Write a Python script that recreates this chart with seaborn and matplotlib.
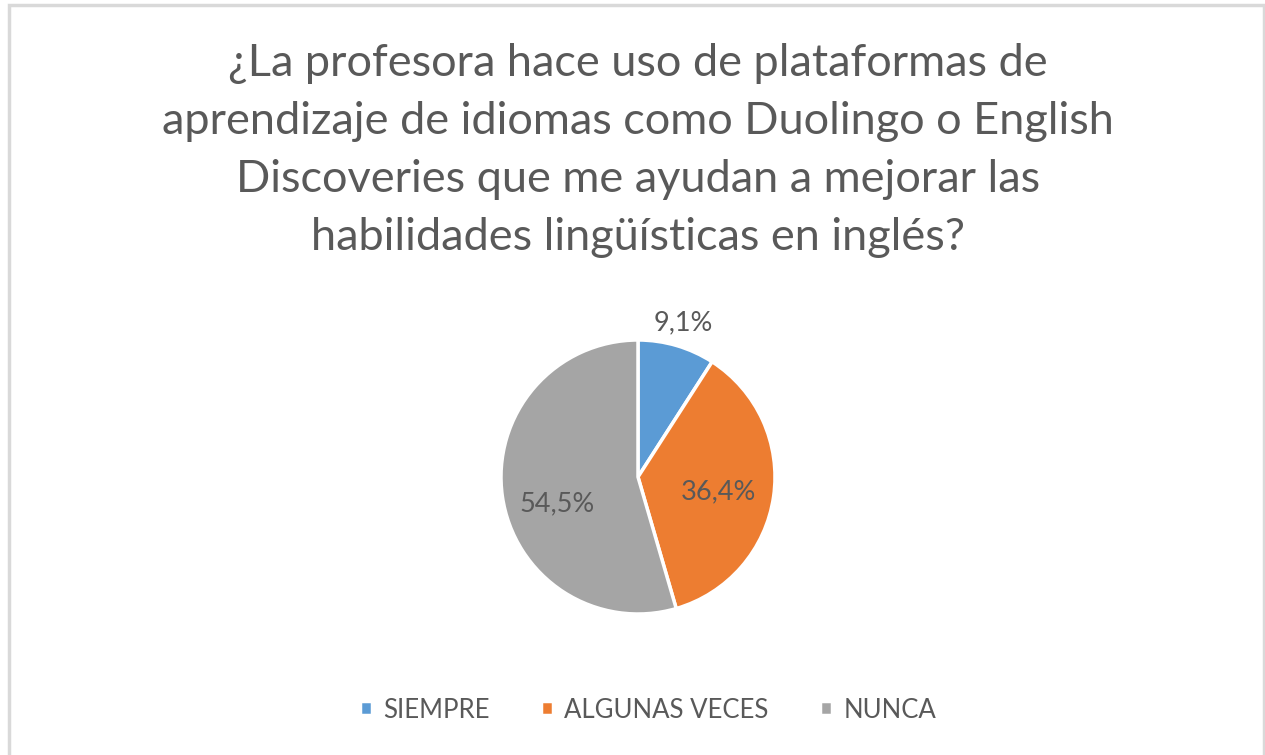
import matplotlib
matplotlib.use('Agg')
import matplotlib.pyplot as plt
import seaborn as sns
import numpy as np
from matplotlib.patches import Rectangle

# Datos
categorias = ['SIEMPRE', 'ALGUNAS VECES', 'NUNCA']
porcentajes = [9.1, 36.4, 54.5]
colores = ['#5B9BD5', '#ED7D31', '#A5A5A5']
titulo = ('¿La profesora hace uso de plataformas de\n'
          'aprendizaje de idiomas como Duolingo o English\n'
          'Discoveries que me ayudan a mejorar las\n'
          'habilidades lingüísticas en inglés?')

sns.set_theme(style="white")
plt.rcParams['font.family'] = ['Lato', 'DejaVu Sans']
gris_texto = '#595959'

W, H = 1265, 755
fig = plt.figure(figsize=(W / 100, H / 100), dpi=100)
fig.patch.set_facecolor('white')

# marco gris del gráfico (sin borde inferior visible)
fig.patches.append(Rectangle((9 / W, -0.02), (W - 10) / W, (H - 5) / H + 0.02 - 0.0005,
                             transform=fig.transFigure, fill=False,
                             edgecolor='#D9D9D9', linewidth=2.5))

fig.text(0.5043, 1 - 43 / H, titulo, ha='center', va='top', fontsize=32.5,
         color=gris_texto, linespacing=1.52)

r = 137
cx, cy = 638, 477
ax = fig.add_axes([(cx - r) / W, (H - cy - r) / H, 2 * r / W, 2 * r / H])
wedges, textos, autotextos = ax.pie(
    porcentajes, colors=colores, startangle=90, counterclock=False,
    autopct=lambda p: f'{p:.1f}%'.replace('.', ','), pctdistance=0.6,
    wedgeprops=dict(edgecolor='white', linewidth=2.5),
    textprops=dict(color=gris_texto, fontsize=19.5))
ax.set_xlim(-1, 1)
ax.set_ylim(-1, 1)
ax.set_aspect('equal')
ax.axis('off')

# la etiqueta pequeña va fuera del sector
ang = np.deg2rad((wedges[0].theta1 + wedges[0].theta2) / 2)
autotextos[0].set_position((1.17 * np.cos(ang), 1.17 * np.sin(ang)))
ang = np.deg2rad((wedges[1].theta1 + wedges[1].theta2) / 2 - 2)
autotextos[1].set_position((0.6 * np.cos(ang), 0.6 * np.sin(ang)))
ang = np.deg2rad((wedges[2].theta1 + wedges[2].theta2) / 2 + 10)
autotextos[2].set_position((0.62 * np.cos(ang), 0.62 * np.sin(ang)))

fig.legend(wedges, categorias, loc='center', bbox_to_anchor=(648 / W, 1 - 710 / H),
           ncol=3, frameon=False, fontsize=18.5, labelcolor=gris_texto,
           handlelength=0.45, handleheight=0.45, handletextpad=0.45, columnspacing=2.0)

fig.savefig('out.png', dpi=100, facecolor='white')
